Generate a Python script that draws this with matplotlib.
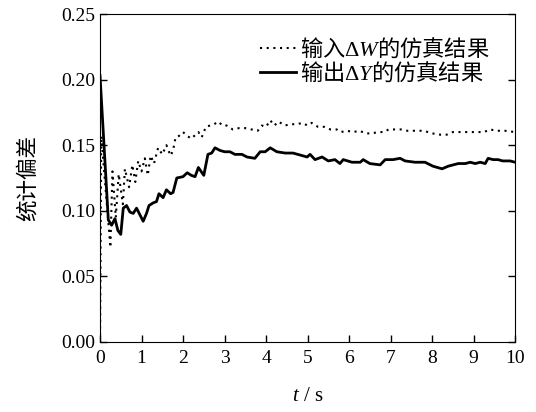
import matplotlib
matplotlib.use("Agg")
import matplotlib.pyplot as plt

plt.rcParams['font.family'] = ['Liberation Serif', 'Noto Sans CJK SC', 'DejaVu Sans']
plt.rcParams['mathtext.fontset'] = 'custom'
plt.rcParams['mathtext.rm'] = 'Liberation Serif'
plt.rcParams['mathtext.sf'] = 'Liberation Serif'
plt.rcParams['mathtext.it'] = 'Liberation Serif:italic'

# 输出 ΔY 的仿真结果 (solid)
t_out = [0.0, 0.2, 0.28, 0.36, 0.43, 0.5, 0.56, 0.64, 0.72, 0.8, 0.88, 0.96, 1.04,
         1.12, 1.18, 1.28, 1.36, 1.42, 1.52, 1.6, 1.7, 1.76, 1.85, 2.0, 2.1, 2.2,
         2.29, 2.37, 2.5, 2.6, 2.69, 2.77, 2.89, 3.0, 3.13, 3.25, 3.42, 3.54, 3.73,
         3.86, 3.98, 4.1, 4.26, 4.46, 4.65, 4.99, 5.06, 5.18, 5.35, 5.5, 5.66, 5.78,
         5.86, 6.07, 6.27, 6.34, 6.5, 6.75, 6.87, 7.06, 7.23, 7.35, 7.59, 7.83, 8.02,
         8.24, 8.39, 8.63, 8.8, 8.92, 9.04, 9.16, 9.28, 9.35, 9.47, 9.59, 9.7, 9.88, 10.0]
y_out = [0.203, 0.093, 0.089, 0.094, 0.085, 0.082, 0.102, 0.104, 0.099, 0.098, 0.102,
         0.097, 0.092, 0.098, 0.104, 0.106, 0.107, 0.113, 0.110, 0.116, 0.113, 0.114,
         0.125, 0.126, 0.129, 0.127, 0.126, 0.133, 0.127, 0.143, 0.144, 0.148, 0.146,
         0.145, 0.145, 0.143, 0.143, 0.141, 0.140, 0.145, 0.145, 0.148, 0.145, 0.144,
         0.144, 0.141, 0.143, 0.139, 0.141, 0.138, 0.139, 0.136, 0.139, 0.137, 0.137,
         0.139, 0.136, 0.135, 0.139, 0.139, 0.140, 0.138, 0.137, 0.137, 0.134, 0.132,
         0.134, 0.136, 0.136, 0.137, 0.136, 0.137, 0.136, 0.140, 0.139, 0.139, 0.138,
         0.138, 0.137]

# 输入 ΔW 的仿真结果 (dotted)
t_in = [0.0, 0.03, 0.25, 0.3, 0.38, 0.45, 0.55, 0.6, 0.7, 0.78, 0.85, 0.92, 1.0, 1.08,
        1.15, 1.22, 1.3, 1.4, 1.5, 1.6, 1.7, 1.76, 1.82, 1.9, 2.0, 2.1, 2.2, 2.3, 2.37,
        2.45, 2.55, 2.65, 2.75, 2.85, 2.95, 3.05, 3.2, 3.35, 3.5, 3.65, 3.8, 3.9, 4.0,
        4.1, 4.2, 4.3, 4.45, 4.6, 4.75, 4.87, 5.0, 5.1, 5.25, 5.4, 5.55, 5.7, 5.8, 5.95,
        6.1, 6.25, 6.4, 6.55, 6.7, 6.85, 6.95, 7.1, 7.25, 7.4, 7.6, 7.8, 8.0, 8.2, 8.35,
        8.5, 8.7, 8.9, 9.1, 9.25, 9.4, 9.55, 9.75, 10.0]
y_in = [0.0, 0.157, 0.072, 0.130, 0.095, 0.128, 0.105, 0.132, 0.118, 0.135, 0.122,
        0.138, 0.130, 0.140, 0.127, 0.142, 0.136, 0.148, 0.143, 0.150, 0.142, 0.146,
        0.156, 0.157, 0.160, 0.157, 0.155, 0.158, 0.160, 0.156, 0.164, 0.165, 0.166,
        0.168, 0.165, 0.165, 0.162, 0.163, 0.163, 0.162, 0.161, 0.165, 0.164, 0.169,
        0.165, 0.168, 0.165, 0.166, 0.166, 0.167, 0.165, 0.167, 0.164, 0.164, 0.162,
        0.162, 0.160, 0.161, 0.160, 0.161, 0.159, 0.159, 0.160, 0.160, 0.162, 0.162,
        0.162, 0.161, 0.161, 0.161, 0.159, 0.158, 0.158, 0.160, 0.160, 0.160, 0.160,
        0.160, 0.162, 0.161, 0.161, 0.160]

x_ticks = list(range(0, 11))
y_ticks = [0.00, 0.05, 0.10, 0.15, 0.20, 0.25]

fig = plt.figure(figsize=(5.36, 4.12), dpi=100)
ax = fig.add_axes([0.1866, 0.170, 0.7744, 0.796])

ax.plot(t_in, y_in, color='black', linewidth=1.5, linestyle=(0, (1, 2.2)),
        label=r'输入$\mathsf{\Delta}W$的仿真结果')
ax.plot(t_out, y_out, color='black', linewidth=2.0,
        label=r'输出$\mathsf{\Delta}Y$的仿真结果')

ax.set_xlim(0, 10)
ax.set_ylim(0, 0.25)
ax.set_xticks(x_ticks)
ax.set_yticks(y_ticks)
ax.set_yticklabels([f'{v:.2f}' for v in y_ticks])
ax.tick_params(direction='in', length=5, width=1, labelsize=14, right=True, top=False)
ax.tick_params(axis='x', pad=6)

ax.set_xlabel('$t$ / s', fontsize=15, labelpad=14)
ax.set_ylabel('统计偏差', fontsize=15.5, family=['Noto Sans CJK SC'], labelpad=16)

# legend text in the CJK family: the non-math part of a mathtext label takes the text's own font
leg = ax.legend(loc='upper right', frameon=False, handlelength=1.6,
                prop={'family': 'Noto Sans CJK SC', 'size': 16},
                handletextpad=0.2, labelspacing=0.0, borderaxespad=0.0,
                bbox_to_anchor=(0.961, 0.960))

fig.savefig('out.png', dpi=100)
